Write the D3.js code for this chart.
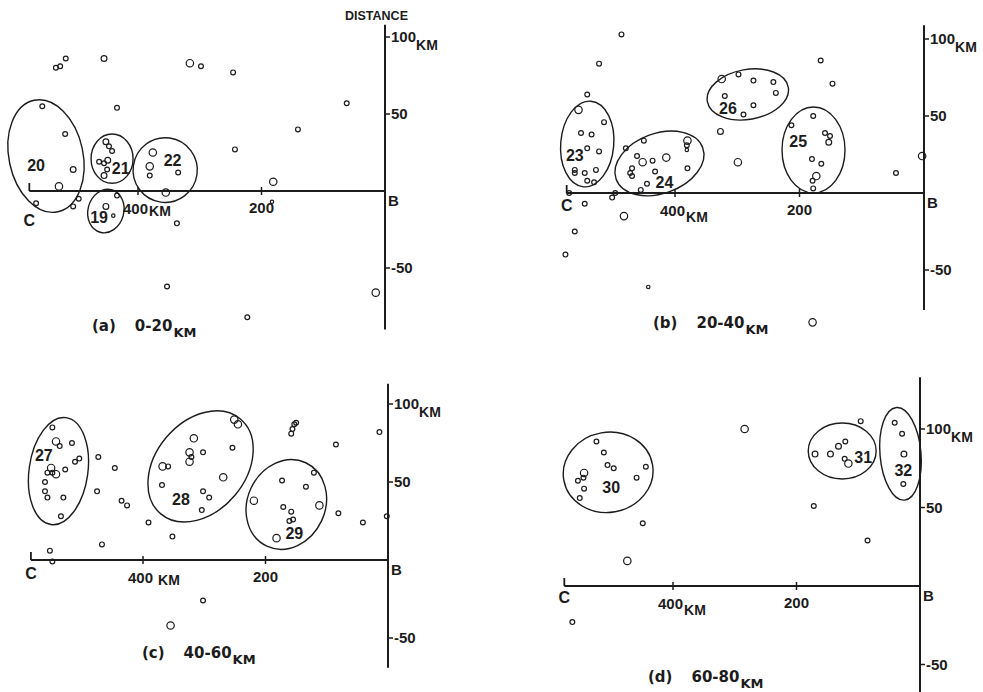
<!DOCTYPE html>
<html><head><meta charset="utf-8">
<script src="https://cdn.jsdelivr.net/npm/d3@7"></script>
<style>
body{margin:0;background:#fff}
text{font-family:"Liberation Sans",Arial,sans-serif;fill:#1c1c1c;font-weight:bold}
text.title{font-family:"DejaVu Sans",sans-serif}
</style>
</head><body>
<svg id="chart" width="983" height="692"></svg>
<script>
// ---- DATA: [distance from B along C-B (km), perpendicular distance (km), size class 0..3]
const pointsA = [
 [533,80,1],[526,81,1],[517,86,1],[455,86,2],[316,83,3],[298,81,1],[246,77,1],[62,57,1],[141,40,1],[243,27,1],
 [434,54,1],[555,55,1],[518,37,1],[505,14,2],[528,3,3],[565,-8,1],[496,-5,1],[505,-10,1],
 [452,32,2],[447,29,1],[442,26,1],[463,19,1],[449,20,2],[455,18,1],[450,14,1],[455,10,2],
 [376,25,3],[381,16,3],[381,10,1],[335,12,1],[355,-1,3],
 [434,-3,1],[452,-10,2],[440,-16,0],
 [337,-21,1],[181,6,3],[183,-7,0],[353,-62,1],[223,-82,1],[15,-66,3]
];
const pointsB = [
 [486,103,1],[522,84,1],[541,64,1],[555,54,3],[514,46,1],[551,39,1],[534,38,1],[541,29,1],[522,27,1],
 [561,15,1],[561,13,1],[545,13,1],[527,15,1],[541,8,1],[530,7,1],[570,0,1],[545,-7,1],[496,0,1],[501,-3,1],
 [482,-15,3],[561,-25,1],[576,-40,1],[443,-61,0],
 [479,29,1],[450,34,1],[461,24,1],[469,16,1],[472,13,1],[469,11,1],[452,20,3],[436,21,1],[414,23,3],
 [432,14,1],[445,6,1],[455,2,1],[380,34,3],[381,31,1],[381,28,0],[380,16,1],
 [325,74,3],[298,77,1],[274,73,1],[242,72,1],[238,65,1],[320,63,1],[274,57,1],[290,51,1],[327,40,2],[299,20,3],
 [178,50,1],[213,44,1],[159,39,1],[151,37,1],[153,33,2],[180,22,1],[165,19,1],[173,11,3],[179,8,1],[178,3,1],
 [166,86,1],[147,71,1],[45,13,1],[3,24,3],[179,-84,3]
];
const pointsC = [
 [548,85,1],[542,76,3],[536,73,1],[516,75,1],[511,63,1],[504,65,1],[527,58,1],[550,59,3],[556,56,1],[548,56,1],
 [542,55,3],[560,50,1],[560,44,1],[556,40,1],[530,40,1],[534,28,1],[552,6,1],[548,-1,1],
 [473,66,1],[446,59,1],[475,44,1],[435,38,1],[426,35,1],[467,10,1],[391,24,1],[352,15,1],[302,-26,1],[355,-42,3],
 [368,60,3],[359,60,1],[369,48,1],[317,78,3],[324,69,3],[321,66,1],[324,63,3],[302,69,1],[302,44,1],[292,40,1],
 [304,32,1],[269,53,3],[254,72,1],[251,90,3],[245,87,3],
 [158,81,1],[156,84,1],[153,87,1],[150,88,1],[85,74,1],[14,82,1],[81,30,1],[41,24,1],[2,28,1],
 [219,38,3],[173,51,1],[171,34,1],[158,31,1],[161,25,1],[155,26,1],[182,14,3],[134,47,1],[121,56,1],[112,35,3]
];
const pointsD = [
 [524,92,1],[512,85,1],[506,77,1],[496,75,1],[544,72,3],[545,69,1],[554,67,1],[544,62,1],[551,56,1],
 [459,69,1],[444,76,1],[449,40,1],[474,16,3],[563,-23,1],[284,100,3],
 [170,84,2],[145,84,2],[132,89,2],[121,92,1],[122,81,1],[116,78,3],
 [96,105,1],[172,51,1],[85,29,1],
 [41,104,1],[29,97,1],[26,84,2],[27,65,1]
];
// clusters: id, centre (km), semi-axes (km), tilt (deg), label position (km)
const clustersA = [
 {id:"20", d:549, o:22.7, rx:60, ry:37, rot:-12, ld:565, lo:17},
 {id:"21", d:442, o:21, rx:34, ry:16, rot:0, ld:428, lo:15},
 {id:"22", d:356, o:13.6, rx:52, ry:21, rot:8, ld:344, lo:20},
 {id:"19", d:452, o:-13, rx:29, ry:14.3, rot:15, ld:463, lo:-17}
];
const clustersB = [
 {id:"23", d:541, o:31.8, rx:42.6, ry:27.9, rot:5, ld:561, lo:25},
 {id:"24", d:425, o:19.2, rx:74, ry:19.5, rot:-20, ld:417, lo:7},
 {id:"26", d:283, o:64, rx:66, ry:16.2, rot:-10, ld:315, lo:55},
 {id:"25", d:177.5, o:27.9, rx:50.6, ry:27.9, rot:0, ld:202, lo:34}
];
const clustersC = [
 {id:"27", d:538, o:57, rx:48, ry:34.6, rot:8, ld:562, lo:67},
 {id:"28", d:306, o:60, rx:73.3, ry:39.7, rot:40, ld:338, lo:39},
 {id:"29", d:166, o:35.6, rx:63.5, ry:29.5, rot:25, ld:153, lo:17}
];
const clustersD = [
 {id:"30", d:505, o:72.4, rx:72.9, ry:25.5, rot:-10, ld:500, lo:63},
 {id:"31", d:126, o:86, rx:55, ry:17.8, rot:0, ld:92, lo:82},
 {id:"32", d:31.6, o:84.2, rx:33.2, ry:29.6, rot:-5, ld:27, lo:74}
];
const xTickValues = [400, 200];
const yTickValues = [100, 50, -50];
const panelLetters = ["(a)", "(b)", "(c)", "(d)"];
const depthRanges = ["0-20", "20-40", "40-60", "60-80"];

// ---- LAYOUT
const panels = [
 {pts:pointsA, cl:clustersA, bx:385, x400:138, y0:191, y100:37, top:108, bot:-90, cDist:576, cDy:35, tx:92, ty:331},
 {pts:pointsB, cl:clustersB, bx:924, x400:675, y0:193, y100:39, top:109, bot:-76, cDist:574, cDy:18, tx:653, ty:328},
 {pts:pointsC, cl:clustersC, bx:388, x400:143, y0:560, y100:404, top:113, bot:-69, cDist:583, cDy:19, tx:142, ty:658},
 {pts:pointsD, cl:clustersD, bx:920, x400:673, y0:586, y100:429, top:133, bot:-68, cDist:576, cDy:17, tx:648, ty:682}
];
const ink = "#1c1c1c";
const rScale = d3.scaleOrdinal().domain([0,1,2,3]).range([1.7,2.4,2.9,3.7]);
const svg = d3.select("#chart");

panels.forEach((p, i) => {
  const x = d3.scaleLinear().domain([0, 400]).range([p.bx, p.x400]);
  const y = d3.scaleLinear().domain([0, 100]).range([p.y0, p.y100]);
  const g = svg.append("g");

  // horizontal axis C-B
  g.append("line").attr("x1", x(p.cDist)).attr("x2", x(0)).attr("y1", y(0)).attr("y2", y(0))
    .attr("stroke", ink).attr("stroke-width", 2);
  g.append("line").attr("x1", x(p.cDist)).attr("x2", x(p.cDist)).attr("y1", y(0)).attr("y2", y(0) - 8)
    .attr("stroke", ink).attr("stroke-width", 1.8);
  g.selectAll(".xt").data(xTickValues).join("line")
    .attr("x1", d => x(d)).attr("x2", d => x(d)).attr("y1", y(0) - 4).attr("y2", y(0) + 4)
    .attr("stroke", ink).attr("stroke-width", 1.5);
  // vertical axis at B
  g.append("line").attr("x1", x(0)).attr("x2", x(0)).attr("y1", y(p.top)).attr("y2", y(p.bot))
    .attr("stroke", ink).attr("stroke-width", 2);
  g.selectAll(".yt").data(yTickValues).join("line")
    .attr("x1", x(0)).attr("x2", x(0) + 5).attr("y1", d => y(d)).attr("y2", d => y(d))
    .attr("stroke", ink).attr("stroke-width", 1.5);

  // y labels
  yTickValues.forEach(v => {
    const t = g.append("text").attr("x", x(0) + 6).attr("y", y(v) + 5).attr("font-size", 15).text(v);
    if (v === 100) t.append("tspan").attr("dy", 8).attr("font-size", 14).text("KM");
  });
  // x labels
  const t4 = g.append("text").attr("x", x(400) - 15).attr("y", y(0) + 23).attr("font-size", 15).text("400");
  t4.append("tspan").attr("dx", i === 2 ? 5 : 1).attr("dy", i % 2 ? 6 : 2).attr("font-size", 14).text("KM");
  g.append("text").attr("x", x(200)).attr("y", y(0) + 22).attr("text-anchor", "middle").attr("font-size", 15).text("200");
  g.append("text").attr("x", x(p.cDist)).attr("y", y(0) + p.cDy).attr("text-anchor", "middle").attr("font-size", 16).text("C");
  g.append("text").attr("x", x(0) + 3).attr("y", y(0) + 15).attr("font-size", 15).text("B");

  // clusters
  g.selectAll(".cl").data(p.cl).join("ellipse")
    .attr("cx", d => x(d.d)).attr("cy", d => y(d.o))
    .attr("rx", d => Math.abs(x(d.d + d.rx) - x(d.d)))
    .attr("ry", d => Math.abs(y(d.o + d.ry) - y(d.o)))
    .attr("transform", d => `rotate(${d.rot},${x(d.d)},${y(d.o)})`)
    .attr("fill", "none").attr("stroke", ink).attr("stroke-width", 1.4);
  g.selectAll(".cllab").data(p.cl).join("text")
    .attr("x", d => x(d.ld)).attr("y", d => y(d.lo) + 6)
    .attr("text-anchor", "middle").attr("font-size", 16).text(d => d.id);

  // events
  g.selectAll(".pt").data(p.pts).join("circle")
    .attr("cx", d => x(d[0])).attr("cy", d => y(d[1])).attr("r", d => rScale(d[2]))
    .attr("fill", "none").attr("stroke", ink).attr("stroke-width", 1.2);

  // title
  const tt = g.append("text").attr("class", "title").attr("x", p.tx).attr("y", p.ty).attr("font-size", 15).text(panelLetters[i]);
  tt.append("tspan").attr("dx", 19).text(depthRanges[i]);
  tt.append("tspan").attr("dx", 1).attr("dy", 6).attr("font-size", 13).text("KM");
});

svg.append("text").attr("x", 345).attr("y", 20).attr("font-size", 12.5).text("DISTANCE");
</script>
</body></html>
